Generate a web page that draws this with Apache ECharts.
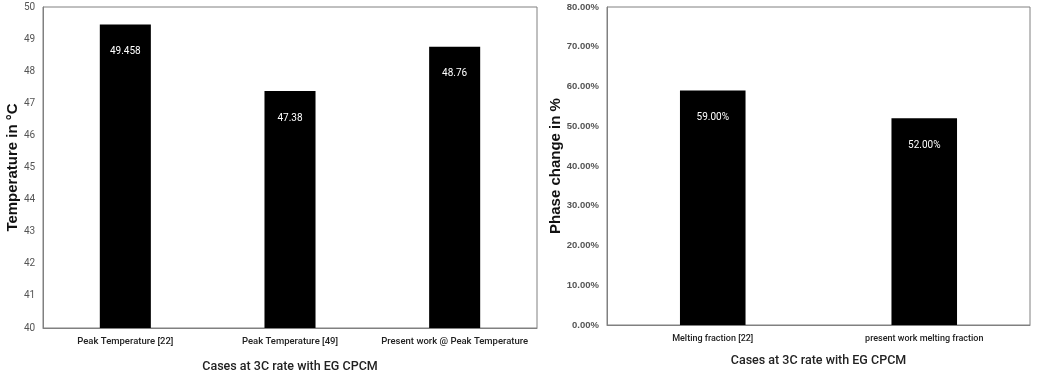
<!DOCTYPE html>
<html>
<head>
<meta charset="utf-8">
<script src="https://cdn.jsdelivr.net/npm/echarts@6/dist/echarts.min.js"></script>
<style>
html,body{margin:0;padding:0;background:#fff;}
#c{width:1046px;height:380px;}
</style>
</head>
<body>
<div id="c"></div>
<script>
var tempCategories = ['Peak Temperature [22]', 'Peak Temperature [49]', 'Present work @ Peak Temperature'];
var tempValues = [49.458, 47.38, 48.76];
var tempLabels = ['49.458', '47.38', '48.76'];
var meltCategories = ['Melting fraction [22]', 'present work melting fraction'];
var meltValues = [0.59, 0.52];
var meltLabels = ['59.00%', '52.00%'];
var xTitle = 'Cases at 3C rate with EG CPCM';
var leftYTitle = 'Temperature in \u00B0C';
var rightYTitle = 'Phase change in %';

var chart = echarts.init(document.getElementById('c'));
var font = 'Roboto, "Liberation Sans", sans-serif';
var boldFont = '"Liberation Sans", Arial, sans-serif';
var borderCol = '#808080';

chart.setOption({
  animation: false,
  backgroundColor: '#fff',
  grid: [
    {left: 43, right: 509, top: 7, bottom: 52, show: true, borderColor: borderCol, borderWidth: 1, containLabel: false},
    {left: 607, right: 16, top: 7, bottom: 55, show: true, borderColor: borderCol, borderWidth: 1, containLabel: false}
  ],
  xAxis: [
    {
      type: 'category', gridIndex: 0, data: tempCategories,
      axisLine: {lineStyle: {color: borderCol}}, axisTick: {show: false},
      axisLabel: {color: '#222', fontSize: 9.5, fontWeight: 500, fontFamily: font, margin: 9, interval: 0},
      name: xTitle, nameLocation: 'middle', nameGap: 32,
      nameTextStyle: {color: '#222', fontSize: 12.5, fontFamily: font, fontWeight: 500}
    },
    {
      type: 'category', gridIndex: 1, data: meltCategories,
      axisLine: {lineStyle: {color: borderCol}}, axisTick: {show: false},
      axisLabel: {color: '#222', fontSize: 9, fontWeight: 500, fontFamily: font, margin: 9, interval: 0},
      name: xTitle, nameLocation: 'middle', nameGap: 29,
      nameTextStyle: {color: '#222', fontSize: 12.5, fontFamily: font, fontWeight: 500}
    }
  ],
  yAxis: [
    {
      type: 'value', gridIndex: 0, min: 40, max: 50, interval: 1,
      axisLine: {show: true, lineStyle: {color: borderCol}}, axisTick: {show: false},
      splitLine: {show: false},
      axisLabel: {color: '#555', fontSize: 10, fontFamily: font, margin: 19, align: 'left'},
      name: leftYTitle, nameLocation: 'middle', nameGap: 21,
      nameTextStyle: {color: '#111', fontSize: 15, fontWeight: 'bold', fontFamily: boldFont}
    },
    {
      type: 'value', gridIndex: 1, min: 0, max: 0.8, interval: 0.1,
      axisLine: {show: true, lineStyle: {color: borderCol}}, axisTick: {show: false},
      splitLine: {show: false},
      axisLabel: {color: '#555', fontSize: 9.5, fontWeight: 'bold', fontFamily: boldFont, margin: 8,
        formatter: function (v) { return (v * 100).toFixed(2) + '%'; }},
      name: rightYTitle, nameLocation: 'middle', nameGap: 42,
      nameTextStyle: {color: '#111', fontSize: 15, fontWeight: 'bold', fontFamily: boldFont}
    }
  ],
  series: [
    {
      type: 'bar', xAxisIndex: 0, yAxisIndex: 0, data: tempValues, barWidth: '31%',
      itemStyle: {color: '#000'},
      label: {show: true, position: 'insideTop', distance: 22, color: '#fff', fontSize: 10, fontFamily: font,
        formatter: function (p) { return tempLabels[p.dataIndex]; }}
    },
    {
      type: 'bar', xAxisIndex: 1, yAxisIndex: 1, data: meltValues, barWidth: '31%',
      itemStyle: {color: '#000'},
      label: {show: true, position: 'insideTop', distance: 22, color: '#fff', fontSize: 10, fontFamily: font,
        formatter: function (p) { return meltLabels[p.dataIndex]; }}
    }
  ]
});
</script>
</body>
</html>
